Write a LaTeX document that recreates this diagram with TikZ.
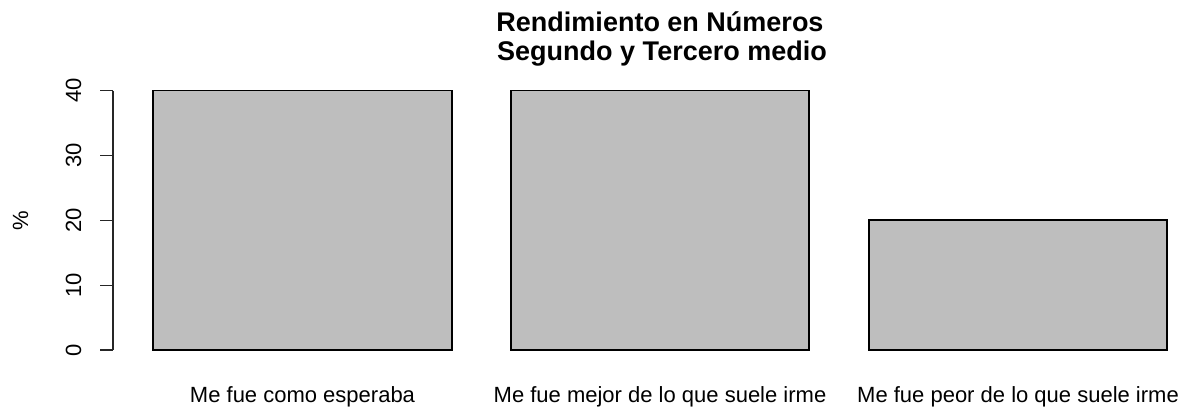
\documentclass[tikz,border=0pt]{standalone}
\usepackage{fontspec}
\setmainfont{Liberation Sans}
\usepackage{xcolor}
\usepackage{tikz}
\definecolor{bargray}{HTML}{BEBEBE}

\begin{document}
\begin{tikzpicture}[x=1pt,y=-1pt,
    bar/.style={fill=bargray,draw=black,line width=1.1pt},
    axisline/.style={draw=black!85,line width=1.3pt},
    ticklabel/.style={rotate=90,anchor=base,inner sep=0pt,font=\fontsize{22}{26}\selectfont},
    barlabel/.style={anchor=base,inner sep=0pt,font=\fontsize{22}{26}\selectfont},
    titletext/.style={anchor=base,inner sep=0pt,font=\fontsize{27}{31}\selectfont\bfseries}]
    \useasboundingbox (0,0) rectangle (1185,411);
    % title
    \node[titletext] (title1) at (660,32) {Rendimiento en Números};
    \node[titletext] (title2) at (662,61) {Segundo y Tercero medio};
    % bars
    \draw[bar] (153,350) rectangle (452,90.7);
    \draw[bar] (511,350) rectangle (809,90.7);
    \draw[bar] (869,350) rectangle (1167,220);
    % axis
    \draw[axisline] (113,90.7) -- (113,350);
    \foreach \v in {0,10,20,30,40} {
      \draw[axisline] (100,350-6.483*\v) -- (113,350-6.483*\v);
      \node[ticklabel] (tick\v) at (81,350-6.483*\v) {\v};
    }
    \node[ticklabel] (ylabel) at (28,221) {\%};
    % category names
    \node[barlabel] (lab1) at (302.5,402) {Me fue como esperaba};
    \node[barlabel] (lab2) at (660,402) {Me fue mejor de lo que suele irme};
    \node[barlabel] (lab3) at (1018,402) {Me fue peor de lo que suele irme};
\end{tikzpicture}
\end{document}
